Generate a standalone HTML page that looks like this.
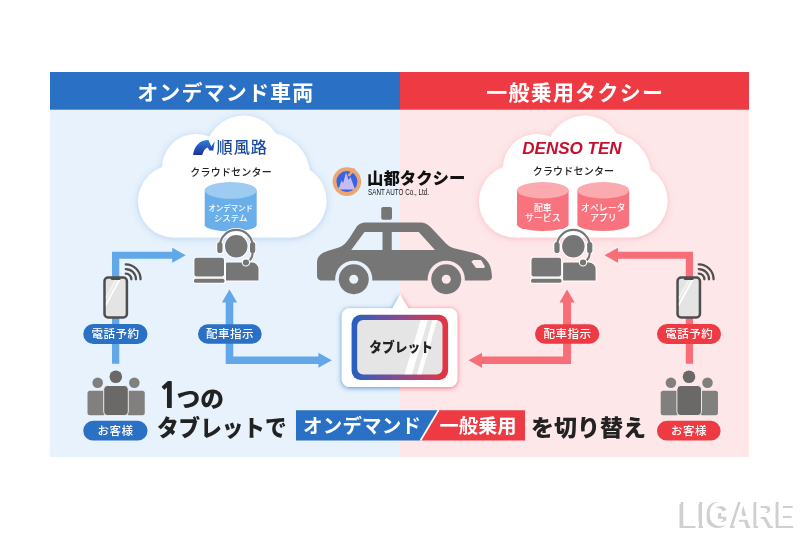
<!DOCTYPE html>
<html lang="ja">
<head>
<meta charset="utf-8">
<title>オンデマンド車両 / 一般乗用タクシー</title>
<style>
html,body{margin:0;padding:0;background:#fff;}
body{width:800px;height:533px;overflow:hidden;position:relative;}
svg{position:absolute;left:0;top:0;display:block;will-change:transform;}
text{font-family:"Liberation Sans","Noto Sans CJK JP",sans-serif;}
.jp{font-family:"Liberation Sans","Noto Sans CJK JP",sans-serif;}
.b{font-weight:700;}
.n1{font-family:"NanumGothic","Liberation Sans",sans-serif;font-weight:800;}
.w{fill:#fff;}
</style>
</head>
<body>
<svg width="800" height="533" viewBox="0 0 800 533">
<defs>
  <filter id="shB" x="-20%" y="-20%" width="140%" height="150%">
    <feGaussianBlur in="SourceAlpha" stdDeviation="3.5"/>
    <feOffset dx="0" dy="1" result="o"/>
    <feFlood flood-color="#4f86cc" flood-opacity="0.3"/>
    <feComposite in2="o" operator="in"/>
    <feMerge><feMergeNode/><feMergeNode in="SourceGraphic"/></feMerge>
  </filter>
  <filter id="shR" x="-20%" y="-20%" width="140%" height="150%">
    <feGaussianBlur in="SourceAlpha" stdDeviation="3.5"/>
    <feOffset dx="0" dy="1" result="o"/>
    <feFlood flood-color="#e0606c" flood-opacity="0.3"/>
    <feComposite in2="o" operator="in"/>
    <feMerge><feMergeNode/><feMergeNode in="SourceGraphic"/></feMerge>
  </filter>
  <filter id="tbB" x="-20%" y="-20%" width="140%" height="140%">
    <feGaussianBlur in="SourceAlpha" stdDeviation="2.6"/>
    <feOffset dx="0" dy="0.5" result="o"/>
    <feFlood flood-color="#3f7fd0" flood-opacity="0.9"/>
    <feComposite in2="o" operator="in"/>
    <feMerge><feMergeNode/><feMergeNode in="SourceGraphic"/></feMerge>
  </filter>
  <filter id="tbR" x="-20%" y="-20%" width="140%" height="140%">
    <feGaussianBlur in="SourceAlpha" stdDeviation="2.6"/>
    <feOffset dx="0" dy="0.5" result="o"/>
    <feFlood flood-color="#e8606c" flood-opacity="0.9"/>
    <feComposite in2="o" operator="in"/>
    <feMerge><feMergeNode/><feMergeNode in="SourceGraphic"/></feMerge>
  </filter>
  <linearGradient id="gBR" x1="0" y1="0" x2="1" y2="0">
    <stop offset="0" stop-color="#2460c2"/>
    <stop offset="0.5" stop-color="#8a4a8e"/>
    <stop offset="1" stop-color="#e8343f"/>
  </linearGradient>
  <linearGradient id="gLogo" x1="0" y1="0" x2="0" y2="1">
    <stop offset="0" stop-color="#2f7fe0"/>
    <stop offset="1" stop-color="#1a2f96"/>
  </linearGradient>
  <clipPath id="cL"><rect x="0" y="0" width="400" height="533"/></clipPath>
  <clipPath id="cR"><rect x="400" y="0" width="400" height="533"/></clipPath>
  <clipPath id="scr"><rect x="357.200" y="320" width="85.300" height="54.500" rx="6"/></clipPath>

  <!-- operator icon: origin = left edge of laptop / top of head -->
  <g id="operShape">
    <rect x="0.400" y="22.750" width="29.600" height="18.750" rx="2.200"/>
    <rect x="0" y="43.750" width="30.400" height="4" rx="1.500"/>
    <path d="M32,45.600 V28.500 a1,1 0 0 1 1,-1 H58 a6.500,6.500 0 0 1 6.500,6.500 V45.600 Z"/>
    <circle cx="42.250" cy="11.250" r="11.250"/>
    <rect x="23.250" y="6.900" width="5.250" height="11.200" rx="2.600"/>
    <rect x="56" y="6.900" width="5.250" height="11.200" rx="2.600"/>
    <circle cx="51.900" cy="27.300" r="3.100"/>
  </g>
  <g id="operLines" fill="none">
    <path d="M25.850,13 V11.250 a16.400,16.400 0 0 1 32.800,0 V13"/>
    <path d="M58.650,17 C58.650,22 57,25 53.500,26.500"/>
  </g>
  <g id="oper">
    <use href="#operShape" fill="#fff" stroke="#fff" stroke-width="2" stroke-linejoin="round"/>
    <use href="#operLines" stroke="#fff" stroke-width="3.600"/>
    <use href="#operLines" stroke="#767676" stroke-width="2.100"/>
    <use href="#operShape" fill="#767676"/>
    <circle cx="51.900" cy="27.300" r="3.700" fill="none" stroke="#fff" stroke-width="1.100"/>
  </g>

  <!-- phone icon: origin = outer top-left of phone body -->
  <g id="phone">
    <rect x="1.250" y="1.250" width="22.400" height="40" rx="3.600" fill="#e5e4e4" stroke="#4e4e4e" stroke-width="2.500"/>
    <path d="M2.600,20 L12.500,2.600 H14.600 L2.600,24 Z" fill="#fff" opacity="0.550"/>
    <path d="M2.600,26.500 L15.800,2.600 H17.800 L2.600,30.300 Z" fill="#fff"/>
    <rect x="7.500" y="1" width="10" height="2.800" rx="1.300" fill="#4e4e4e"/>
    <g fill="none" stroke="#4e4e4e" stroke-width="2.300" stroke-linecap="round">
      <path d="M22.500,-2.600 a5.600,5.600 0 0 1 5.600,5.600"/>
      <path d="M22.500,-7.200 a10.200,10.200 0 0 1 10.200,10.200"/>
      <path d="M22.500,-11.800 a14.800,14.800 0 0 1 14.800,14.800"/>
    </g>
  </g>

  <!-- people icon: origin = top-left -->
  <g id="people">
    <circle cx="10.200" cy="12.300" r="5.300" fill="#827f7f"/>
    <circle cx="46.800" cy="12.300" r="5.300" fill="#827f7f"/>
    <rect x="0" y="20.300" width="18" height="24.400" rx="2.500" fill="#827f7f"/>
    <rect x="39.250" y="20.300" width="18" height="24.400" rx="2.500" fill="#827f7f"/>
    <circle cx="28.300" cy="6.300" r="6.300" fill="#6b6868"/>
    <rect x="16.200" y="15" width="24.600" height="30.100" rx="3.800" fill="#6b6868" stroke="#fff" stroke-opacity="0.850" stroke-width="1"/>
  </g>
</defs>

<!-- panels -->
<rect x="50" y="72" width="350" height="385" fill="#e7f2fc"/>
<rect x="400" y="72" width="349" height="385" fill="#fee7e9"/>
<rect x="50" y="72" width="350" height="37.700" fill="#2a70c5"/>
<rect x="400" y="72" width="349" height="37.700" fill="#ee3a43"/>
<text class="jp b w" x="225.800" y="99.500" font-size="21" text-anchor="middle" letter-spacing="1.150">オンデマンド車両</text>
<text class="jp b w" x="575.200" y="99.500" font-size="21" text-anchor="middle" letter-spacing="1.250">一般乗用タクシー</text>

<!-- clouds -->
<g fill="#fff" filter="url(#shB)">
    <circle cx="243.6" cy="153.5" r="38"/>
    <circle cx="196" cy="168" r="34"/>
    <circle cx="174.3" cy="201.3" r="36.3"/>
    <circle cx="267.6" cy="175.2" r="42.4"/>
    <circle cx="289.8" cy="200.7" r="36.8"/>
    <rect x="174.3" y="180" width="115.5" height="57.500"/>
</g>
<g fill="#fff" filter="url(#shR)">
    <circle cx="584.6" cy="153.5" r="38"/>
    <circle cx="537" cy="168" r="34"/>
    <circle cx="515.3" cy="201.3" r="36.3"/>
    <circle cx="608.6" cy="175.2" r="42.4"/>
    <circle cx="630.8" cy="200.7" r="36.8"/>
    <rect x="515.3" y="180" width="115.5" height="57.500"/>
</g>

<!-- left cloud content -->
<g>
  <path d="M193,155 C194.500,146 199.500,140 208.500,140 L211.300,146.500 L214.700,141.300 L213.300,150.500 H209.300 L207.800,147.500 C205,148.500 203,151.500 202.300,155 Z" fill="url(#gLogo)"/>
  <text class="jp" x="216.500" y="153.400" font-size="16.200" fill="#1b4a9c" letter-spacing="1" font-weight="500">順風路</text>
</g>
<text class="jp" x="231.100" y="176.300" font-size="10" text-anchor="middle" fill="#222" letter-spacing="0.200" font-weight="500">クラウドセンター</text>
<g>
  <path d="M204.7,190.4 V225 A26,6.5 0 0 0 256.7,225 V190.4 Z" fill="#6aaeea"/>
  <ellipse cx="230.7" cy="190.4" rx="26" ry="8.4" fill="#9dcbf2"/>
  <text class="jp w" x="230.7" y="211.15" font-size="8.2" text-anchor="middle" font-weight="500" textLength="44.5" lengthAdjust="spacingAndGlyphs">オンデマンド</text>
  <text class="jp w" x="230.7" y="221.25" font-size="8.2" text-anchor="middle" font-weight="500" textLength="33.5" lengthAdjust="spacingAndGlyphs">システム</text>
  
</g>

<!-- right cloud content -->
<text x="522.200" y="154" font-size="16.600" fill="#c6102d" font-weight="700" font-style="italic" textLength="99.500" lengthAdjust="spacingAndGlyphs">DENSO TEN</text>
<text class="jp" x="573.500" y="174.800" font-size="10" text-anchor="middle" fill="#222" letter-spacing="0.200" font-weight="500">クラウドセンター</text>
<g>
  <path d="M517,190.25 V224.5 A25.8,6.5 0 0 0 568.6,224.5 V190.25 Z" fill="#f8737d"/>
  <ellipse cx="542.8" cy="190.25" rx="25.8" ry="8.25" fill="#fbaab0"/>
  <text class="jp w" x="542.8" y="210.8" font-size="8.9" text-anchor="middle" font-weight="500">配車</text>
  <text class="jp w" x="542.8" y="221.3" font-size="8.9" text-anchor="middle" font-weight="500">サービス</text>
  
  <path d="M577.4,190.25 V224.5 A25.85,6.5 0 0 0 629.1,224.5 V190.25 Z" fill="#f8737d"/>
  <ellipse cx="603.25" cy="190.25" rx="25.85" ry="8.25" fill="#fbaab0"/>
  <text class="jp w" x="603.25" y="210.8" font-size="8.9" text-anchor="middle" font-weight="500">オペレータ</text>
  <text class="jp w" x="603.25" y="221.3" font-size="8.9" text-anchor="middle" font-weight="500">アプリ</text>
  
</g>

<!-- arrows -->
<g fill="#62a8e8">
  <path d="M112,363.75 V251.8 H172.25 V247.65 L185.75,255.25 L172.25,262.85 V258.7 H119.3 V363.75 Z"/>
  <path d="M229.5,289.5 L237.1,302.5 H233.3 V356.6 H318.4 V352.8 L331.8,360.3 L318.4,367.8 V364 H225.7 V302.5 H221.9 Z"/>
</g>
<g fill="#f76d78">
  <path d="M693,363.75 V251.8 H618 V247.65 L604.5,255.25 L618,262.85 V258.7 H685.8 V363.75 Z"/>
  <path d="M567.05,289.5 L559.45,302.5 H563.1 V356.6 H482 V352.8 L468.5,360.3 L482,367.8 V364 H571 V302.5 H574.65 Z"/>
</g>

<!-- operators -->
<use href="#oper" transform="translate(194,235)"/>
<use href="#oper" transform="translate(531.100,235)"/>

<!-- phones -->
<use href="#phone" transform="translate(103.250,276.250)"/>
<use href="#phone" transform="translate(676.300,276.250)"/>

<!-- pills -->
<g>
  <rect x="83.25" y="324" width="64.25" height="20" rx="10" fill="#2a70c5"/>
  <text class="jp w" x="115.62" y="338.14" font-size="11.5" text-anchor="middle" font-weight="500" letter-spacing="0.5">電話予約</text>
  <rect x="198" y="324.3" width="63.7" height="19.4" rx="9.7" fill="#2a70c5"/>
  <text class="jp w" x="230.1" y="338.14" font-size="11.5" text-anchor="middle" font-weight="500" letter-spacing="0.5">配車指示</text>
  <rect x="83.25" y="420.75" width="64.25" height="19.85" rx="9.93" fill="#2a70c5"/>
  <text class="jp w" x="115.62" y="434.81" font-size="11.5" text-anchor="middle" font-weight="500" letter-spacing="0.5">お客様</text>
  <rect x="535" y="324.3" width="64.3" height="19.4" rx="9.7" fill="#ee3a43"/>
  <text class="jp w" x="567.4" y="338.14" font-size="11.5" text-anchor="middle" font-weight="500" letter-spacing="0.5">配車指示</text>
  <rect x="657" y="324" width="64" height="20" rx="10" fill="#ee3a43"/>
  <text class="jp w" x="689.25" y="338.14" font-size="11.5" text-anchor="middle" font-weight="500" letter-spacing="0.5">電話予約</text>
  <rect x="657" y="420.75" width="63.6" height="19.85" rx="9.93" fill="#ee3a43"/>
  <text class="jp w" x="689.05" y="434.81" font-size="11.5" text-anchor="middle" font-weight="500" letter-spacing="0.5">お客様</text>
</g>

<!-- people -->
<use href="#people" transform="translate(87.500,370.500)"/>
<use href="#people" transform="translate(660.700,370.500)"/>

<!-- centre logo -->
<g>
  <circle cx="346.900" cy="181.600" r="14.300" fill="#eba672"/>
  <circle cx="346.900" cy="181.600" r="10.500" fill="#3a62e2"/>
  <path d="M338.500,189.500 L341.500,180.500 L343.200,183 L346,172.500 L348.600,180 L350.500,177 L355,189.500 Z" fill="#c6bcf2"/>
  <path d="M348.500,176 L354.500,168.500" stroke="#eba672" stroke-width="2.400"/>
  <text class="jp" x="367" y="184.300" font-size="16.400" font-weight="900" fill="#111" letter-spacing="0">山都タクシー</text>
  <text x="368" y="195.300" font-size="8.200" fill="#111" textLength="61" lengthAdjust="spacingAndGlyphs">SANT AUTO Co., Ltd.</text>
</g>

<!-- taxi -->
<g>
  <rect x="381.250" y="207" width="10.750" height="12.700" rx="1.800" fill="#767676"/>
  <path d="M317,273 V262.500 C317,256.500 321,253 327.500,251 L339.500,247.300 C343.500,245.500 346.500,242.500 349.500,238 L355.500,228.500 C358.500,223.700 361.500,222.500 366.500,222.500 H420 C424,222.500 427,223.500 431,227.500 L446,243.500 C449,246.500 452,247.800 456,248.800 L474,253 C484,256 490,262 491.200,270 C491.800,274 492,276 492,277 C492,279.500 490,280.500 487.500,280.500 H322 C319,280.500 317,278.500 317,275.500 Z" fill="#767676"/>
  <path d="M351.250,250 L364.500,232 H382.500 V250 Z" fill="#e7f2fc"/>
  <g clip-path="url(#cL)"><path d="M391.750,250 V232 H418.750 L435,250 Z" fill="#e7f2fc"/></g>
  <g clip-path="url(#cR)"><path d="M391.750,250 V232 H418.750 L435,250 Z" fill="#fee7e9"/></g>
  <path d="M471.300,261.500 L473.500,260 H481 L485,266.500 L484,268 H476 Z" fill="#fee7e9"/>
  <circle cx="353.750" cy="279.250" r="18.600" fill="#e7f2fc"/>
  <circle cx="353.750" cy="279.250" r="15" fill="#767676"/>
  <circle cx="353.750" cy="279.250" r="4.500" fill="#e7f2fc"/>
  <circle cx="446.250" cy="279.250" r="18.600" fill="#fee7e9"/>
  <circle cx="446.250" cy="279.250" r="15" fill="#767676"/>
  <circle cx="446.250" cy="279.250" r="4.500" fill="#fee7e9"/>
</g>

<!-- tablet -->
<g>
  <g clip-path="url(#cL)"><path d="M349.200,308.200 H392.300 L400.200,294.500 L408.400,308.200 H449.900 a7.500,7.500 0 0 1 7.500,7.500 V379.500 a7.500,7.500 0 0 1 -7.500,7.500 H349.200 a7.500,7.500 0 0 1 -7.500,-7.500 V315.700 a7.500,7.500 0 0 1 7.500,-7.500 Z" fill="#fff" filter="url(#tbB)"/></g>
  <g clip-path="url(#cR)"><path d="M349.200,308.200 H392.300 L400.200,294.500 L408.400,308.200 H449.900 a7.500,7.500 0 0 1 7.500,7.500 V379.500 a7.500,7.500 0 0 1 -7.500,7.500 H349.200 a7.500,7.500 0 0 1 -7.500,-7.500 V315.700 a7.500,7.500 0 0 1 7.500,-7.500 Z" fill="#fff" filter="url(#tbR)"/></g>
  <rect x="351.600" y="314.800" width="96.500" height="65.100" rx="9" fill="url(#gBR)"/>
  <rect x="357.200" y="320" width="85.300" height="54.500" rx="6" fill="#e5e5e5"/>
  <g clip-path="url(#scr)" fill="#fff" fill-opacity="0.920">
    <path d="M404.500,374.500 L420.600,320 H427.900 L411.900,374.500 Z"/>
    <path d="M417,374.500 L432.500,320 H437.200 L421.500,374.500 Z"/>
  </g>
  <text class="jp" x="369.300" y="351.800" font-size="13.600" font-weight="900" fill="#222" textLength="63.600" lengthAdjust="spacingAndGlyphs">タブレット</text>
</g>

<!-- bottom text -->
<text class="n1" transform="translate(158,408.200) scale(1.02,1)" x="0" y="0" font-size="34.500" fill="#222">1</text>
<text class="jp" x="176.600" y="406.800" font-size="22.400" font-weight="900" fill="#222" textLength="47.500" lengthAdjust="spacingAndGlyphs">つの</text>
<text class="jp" x="157" y="436.300" font-size="23.200" font-weight="900" fill="#222" textLength="129.500" lengthAdjust="spacingAndGlyphs">タブレットで</text>
<path d="M296,410.300 H438.500 L420.500,440.500 H296 Z" fill="#2a70c5"/>
<path d="M438.500,410.300 H525 V440.500 H420.500 Z" fill="#ee3a43"/>
<path d="M438.500,410.300 L420.500,440.500" stroke="#fff" stroke-width="1.800"/>
<text class="jp b w" x="303" y="433" font-size="19.500" letter-spacing="0.200">オンデマンド</text>
<text class="jp b w" x="439.500" y="433" font-size="19.300" letter-spacing="0">一般乗用</text>
<text class="jp" x="531" y="435.600" font-size="23" font-weight="900" fill="#222" textLength="115" lengthAdjust="spacingAndGlyphs">を切り替え</text>

<!-- watermark -->
<g font-size="34.500" font-weight="700">
  <text x="678.700" y="526.200" fill="#cdcdcd" textLength="115.500" lengthAdjust="spacingAndGlyphs">LIGARE</text>
  <text x="677.500" y="527.800" fill="#d0d0d0" textLength="117" lengthAdjust="spacingAndGlyphs">LIGARE</text>
  <text x="681.300" y="526" fill="#fff" textLength="115.500" lengthAdjust="spacingAndGlyphs">LIGARE</text>
</g>
</svg>
</body>
</html>
